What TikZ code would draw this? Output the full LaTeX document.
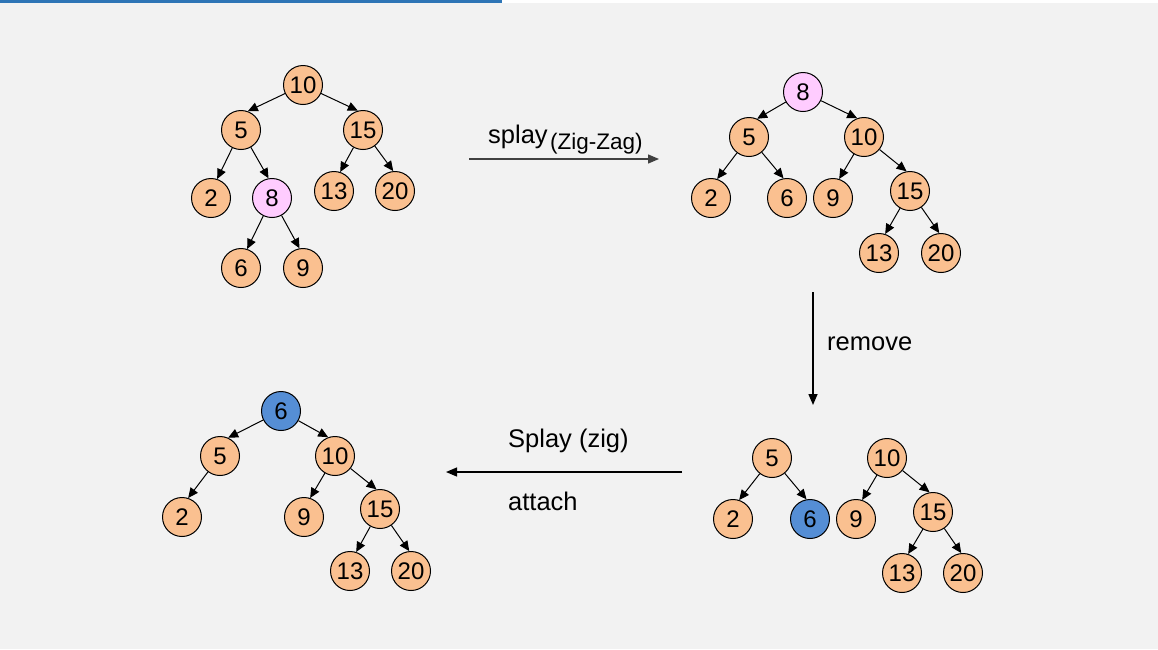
\documentclass[tikz,border=0pt]{standalone}
\usepackage{fontspec}
\setmainfont{Liberation Sans}
\usetikzlibrary{arrows.meta}
\definecolor{peach}{RGB}{250,192,144}
\definecolor{lilac}{RGB}{255,204,255}
\definecolor{keyblue}{RGB}{85,142,213}
\definecolor{barblue}{RGB}{46,117,182}
\definecolor{paper}{RGB}{242,242,242}
\definecolor{darkline}{RGB}{64,64,64}
\tikzset{
  key/.style={
    circle,
    draw=black,
    line width=1pt,
    fill=#1,
    minimum size=39pt,
    inner sep=0pt,
    font=\fontsize{24}{24}\selectfont,
  },
  key/.default=peach,
  link/.style={
    -{Triangle[length=10pt,width=9pt]},
    line width=1pt,
  },
  op arrow/.style={
    -{Triangle[length=11pt,width=9pt]},
    line width=1.4pt,
  },
  caption/.style={
    anchor=base west,
    inner sep=0pt,
    font=\fontsize{25.5}{25.5}\selectfont,
  }
}

\begin{document}
\begin{tikzpicture}[x=1pt,y=-1pt]
        \fill[paper] (0,0) rectangle (1158,649);
        \useasboundingbox (0,0) rectangle (1158,649);
        \fill[barblue] (0,0) rectangle (502,3);
        \fill[white] (502,0) rectangle (1158,3);

        % before splay
        \node [key] (a10) at (303,85) {10};
        \node [key] (a5) at (241,130) {5};
        \node [key] (a15) at (363,130) {15};
        \node [key] (a2) at (211,198) {2};
        \node [key=lilac] (a8) at (272,198) {8};
        \node [key] (a13) at (334,191) {13};
        \node [key] (a20) at (395,191) {20};
        \node [key] (a6) at (241,268) {6};
        \node [key] (a9) at (303,268) {9};
        \draw [link] (a10) -- (a5.70);
        \draw [link] (a10) -- (a15.105);
        \draw [link] (a5) -- (a2.72);
        \draw [link] (a5) -- (a8.100);
        \draw [link] (a15) -- (a13.72);
        \draw [link] (a15) -- (a20.95);
        \draw [link] (a8) -- (a6.72);
        \draw [link] (a8) -- (a9.100);

        % after splay
        \node [key=lilac] (b8) at (803,92) {8};
        \node [key] (b5) at (749,137) {5};
        \node [key] (b10) at (864,137) {10};
        \node [key] (b2) at (711,198) {2};
        \node [key] (b6) at (787,198) {6};
        \node [key] (b9) at (833,198) {9};
        \node [key] (b15) at (910,191) {15};
        \node [key] (b13) at (879,253) {13};
        \node [key] (b20) at (941,253) {20};
        \draw [link] (b8) -- (b5.66);
        \draw [link] (b8) -- (b10.110);
        \draw [link] (b5) -- (b2.72);
        \draw [link] (b5) -- (b6.100);
        \draw [link] (b10) -- (b9.72);
        \draw [link] (b10) -- (b15.100);
        \draw [link] (b15) -- (b13.72);
        \draw [link] (b15) -- (b20.95);

        % after remove
        \node [key] (c5) at (772,458) {5};
        \node [key] (c10) at (887,458) {10};
        \node [key] (c2) at (733,519) {2};
        \node [key=keyblue] (c6) at (810,519) {6};
        \node [key] (c9) at (856,519) {9};
        \node [key] (c15) at (933,512) {15};
        \node [key] (c13) at (902,573) {13};
        \node [key] (c20) at (963,573) {20};
        \draw [link] (c5) -- (c2.72);
        \draw [link] (c5) -- (c6.100);
        \draw [link] (c10) -- (c9.72);
        \draw [link] (c10) -- (c15.100);
        \draw [link] (c15) -- (c13.72);
        \draw [link] (c15) -- (c20.95);

        % after attach
        \node [key=keyblue] (d6) at (281,411) {6};
        \node [key] (d5) at (220,456) {5};
        \node [key] (d10) at (335,456) {10};
        \node [key] (d2) at (182,517) {2};
        \node [key] (d9) at (304,517) {9};
        \node [key] (d15) at (380,509) {15};
        \node [key] (d13) at (350,571) {13};
        \node [key] (d20) at (411,571) {20};
        \draw [link] (d6) -- (d5.66);
        \draw [link] (d6) -- (d10.110);
        \draw [link] (d5) -- (d2.72);
        \draw [link] (d10) -- (d9.72);
        \draw [link] (d10) -- (d15.100);
        \draw [link] (d15) -- (d13.72);
        \draw [link] (d15) -- (d20.95);

        % steps
        \coordinate (zigzag from) at (469,159);
        \coordinate (zigzag to) at (659,159);
        \coordinate (remove from) at (813,292);
        \coordinate (remove to) at (813,405);
        \coordinate (zig from) at (682,472);
        \coordinate (zig to) at (446,472);
        \draw [op arrow, darkline] (zigzag from) -- (zigzag to);
        \draw [op arrow] (remove from) -- (remove to);
        \draw [op arrow, line width=1.2pt] (zig from) -- (zig to);

        \node [caption] (splay) at (488,143) {splay};
        \node [caption, font=\fontsize{22.5}{22.5}\selectfont] (zigzag) at (550,149) {(Zig-Zag)};
        \node [caption] (remove) at (827,350) {remove};
        \node [caption] (zig) at (508,447) {Splay (zig)};
        \node [caption] (attach) at (508,510) {attach};
      \end{tikzpicture}
\end{document}
